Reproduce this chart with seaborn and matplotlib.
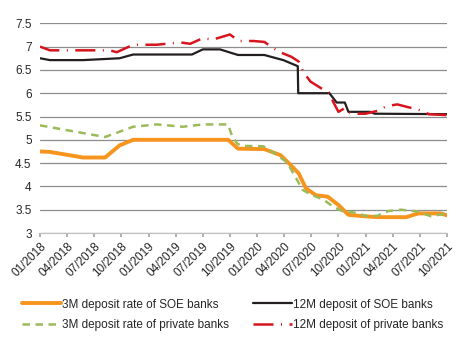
import numpy as np
import pandas as pd
import seaborn as sns
import matplotlib
matplotlib.use("Agg")
import matplotlib.pyplot as plt

# month index: 0 = 01/2018
tick_labels = ["01/2018", "04/2018", "07/2018", "10/2018", "01/2019", "04/2019",
               "07/2019", "10/2019", "01/2020", "04/2020", "07/2020", "10/2020",
               "01/2021", "04/2021", "07/2021", "10/2021"]

soe3_x = [0, 1.1, 4.75, 7.2, 8.8, 10.3, 20.8, 21.9, 24.8, 26.6, 27.5, 28.6, 29.4, 30.5,
          31.8, 33.0, 34.1, 35.8, 37.4, 40.5, 41.8, 44.3, 45]
soe3_y = [4.75, 4.74, 4.62, 4.62, 4.88, 5.0, 5.0, 4.81, 4.80, 4.67, 4.50, 4.28, 3.96, 3.81,
          3.78, 3.60, 3.39, 3.36, 3.34, 3.34, 3.42, 3.42, 3.38]

soe12_x = [0, 1.1, 4.75, 8.8, 10.3, 16.8, 18.0, 19.9, 21.9, 24.8, 26.9, 28.5, 28.55, 32.0,
           32.8, 33.7, 34.1, 36.5, 37.0, 45]
soe12_y = [6.75, 6.71, 6.71, 6.75, 6.83, 6.83, 6.94, 6.94, 6.82, 6.82, 6.71, 6.58, 6.00, 6.00,
           5.80, 5.80, 5.60, 5.60, 5.56, 5.55]

prv3_x = [0, 7.2, 10.3, 12.9, 15.8, 18.0, 20.8, 21.2, 21.8, 22.3, 24.7, 26.0, 27.3, 28.4,
          29.0, 29.9, 31.3, 32.4, 33.5, 34.5, 36.2, 37.3, 38.5, 39.9, 41.8, 43.2, 45]
prv3_y = [5.31, 5.06, 5.28, 5.33, 5.28, 5.33, 5.33, 5.10, 4.92, 4.87, 4.86, 4.70, 4.52, 4.15,
          3.93, 3.83, 3.72, 3.57, 3.46, 3.45, 3.36, 3.37, 3.47, 3.50, 3.46, 3.36, 3.42]

prv12_x = [0, 1.1, 7.7, 8.5, 10.3, 12.9, 15.5, 16.6, 18.0, 19.1, 21.0, 22.0, 23.6, 24.8,
           26.3, 27.8, 28.6, 29.1, 29.9, 31.3, 32.1, 32.4, 33.0, 33.7, 34.4, 36.0, 37.3,
           38.3, 39.5, 40.7, 41.8, 43.0, 45]
prv12_y = [7.0, 6.92, 6.92, 6.88, 7.04, 7.04, 7.09, 7.06, 7.18, 7.15, 7.26, 7.12, 7.12, 7.10,
           6.90, 6.78, 6.68, 6.46, 6.25, 6.08, 6.00, 5.82, 5.60, 5.68, 5.56, 5.56, 5.62,
           5.72, 5.76, 5.70, 5.65, 5.55, 5.53]

names = ["3M deposit rate of SOE banks", "12M deposit of SOE banks",
         "3M deposit rate of private banks", "12M deposit of private banks"]

sns.set_theme(style="white")
plt.rcParams['font.family'] = ['Liberation Sans', 'DejaVu Sans']

fig = plt.figure(figsize=(4.62, 3.43), dpi=100)
ax = fig.add_axes([40/462, 1-233/343, (447-40)/462, (233-23.3)/343])

ax.set_ylim(3, 7.5)
ax.set_xlim(0, 45)
ax.set_yticks(np.arange(3, 7.51, 0.5))
ax.set_yticklabels(["3", "3.5", "4", "4.5", "5", "5.5", "6", "6.5", "7", "7.5"])
ax.yaxis.grid(True, color="#8c8c8c", linewidth=0.9)
ax.set_axisbelow(True)

sns.lineplot(x=soe3_x, y=soe3_y, ax=ax, color="#F7941D", linewidth=2.8, label=names[0])
sns.lineplot(x=soe12_x, y=soe12_y, ax=ax, color="#231F20", linewidth=1.6, label=names[1])
sns.lineplot(x=prv3_x, y=prv3_y, ax=ax, color="#9BBB59", linewidth=1.8, label=names[2],
             dashes=False)
sns.lineplot(x=prv12_x, y=prv12_y, ax=ax, color="#D7141E", linewidth=1.8, label=names[3],
             dashes=False)
lines = ax.get_lines()
lines[2].set_dashes((3.0, 2.2))
lines[3].set_dashes((8.0, 3.0, 0.4, 3.0))

ax.set_xticks(np.arange(0, 46, 3))
ax.set_xticklabels(tick_labels, rotation=45, ha="right", rotation_mode="anchor")
ax.tick_params(axis="x", which="major", bottom=True, length=3, color="#a6a6a6",
               labelsize=8.5, pad=2, colors="#262626")
ax.tick_params(axis="x", colors="#a6a6a6", labelcolor="#262626")
ax.tick_params(axis="y", length=0, labelsize=8.5, labelcolor="#262626", pad=6)
for s in ["top", "right", "left"]:
    ax.spines[s].set_visible(False)
ax.spines["bottom"].set_color("#bfbfbf")
ax.spines["bottom"].set_linewidth(0.8)
ax.set_xlabel("")
ax.set_ylabel("")

h, l = ax.get_legend_handles_labels()
ax.get_legend().remove()
order = [0, 2, 1, 3]
fig.legend([h[i] for i in order], [l[i] for i in order], loc="upper center",
           bbox_to_anchor=(0.504, 1-288/343), ncol=2,
           frameon=False, fontsize=8.5, handlelength=3.3, handletextpad=0.1,
           columnspacing=2.0, labelspacing=0.75)

fig.savefig("out.png", dpi=100, facecolor="white")
